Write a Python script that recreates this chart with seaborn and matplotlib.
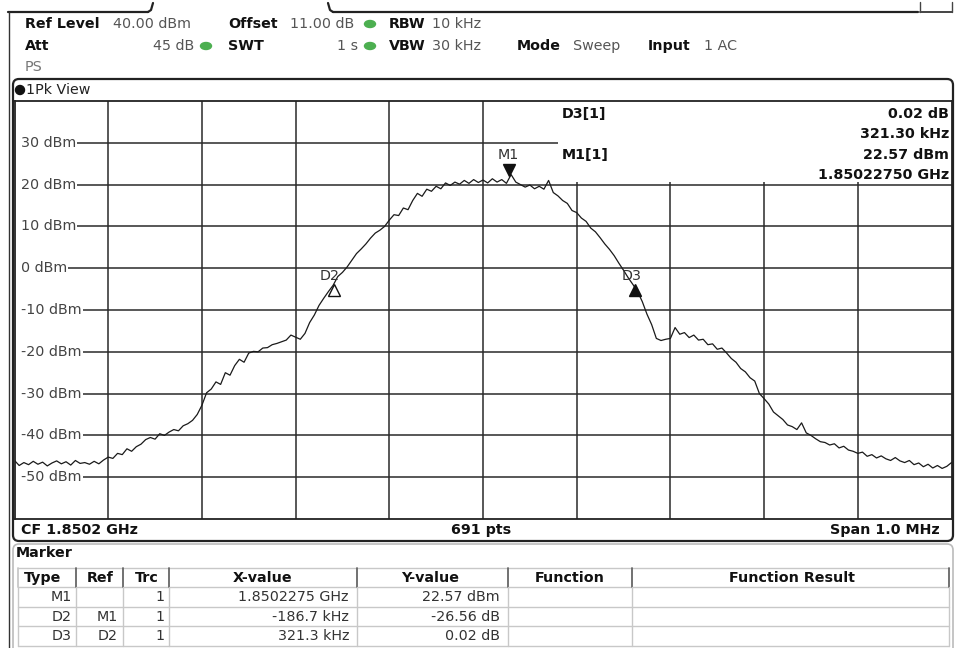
import numpy as np
import pandas as pd
import matplotlib
matplotlib.use("Agg")
import matplotlib.pyplot as plt
from matplotlib.patches import FancyBboxPatch, Ellipse, Rectangle
import seaborn as sns

# ---------------- data ----------------
center_ghz = 1.8502
span_khz = 1000.0
ref_level = 40.0
y_ticks = [30, 20, 10, 0, -10, -20, -30, -40, -50]
y_tick_labels = ["30 dBm", "20 dBm", "10 dBm", "0 dBm", "-10 dBm", "-20 dBm",
                 "-30 dBm", "-40 dBm", "-50 dBm"]

# trace level (dBm), read every 5 kHz from -500 kHz to +500 kHz
level_dbm = [
    -46.0, -47.2, -46.5, -47.0, -46.2, -46.9, -46.4, -47.3, -46.6, -46.1,
    -46.8, -46.3, -47.1, -46.0, -46.7, -46.5, -46.9, -46.2, -46.8, -45.9,
    -45.2, -45.5, -44.3, -44.6, -43.2, -43.8, -42.7, -42.1, -41.0, -40.5,
    -40.9, -39.6, -40.0, -39.2, -38.6, -38.9, -37.7, -37.2, -36.4, -35.0,
    -32.8, -29.8, -28.9, -27.2, -27.8, -25.0, -25.6, -23.3, -21.8, -22.5,
    -20.3, -19.9, -20.0, -19.1, -19.0, -18.3, -18.0, -17.6, -17.2, -16.0,
    -16.5, -17.0, -15.6, -13.0, -11.2, -8.9, -7.2, -5.6, -4.1, -2.0,
    -1.0, 0.3, 1.9, 3.5, 4.6, 5.8, 7.2, 8.4, 9.1, 10.0,
    11.5, 12.8, 12.6, 14.4, 14.0, 16.2, 17.9, 17.2, 18.9, 18.4,
    19.6, 19.0, 20.4, 19.8, 20.6, 20.1, 21.0, 20.3, 21.2, 20.5,
    21.1, 20.4, 21.4, 20.6, 21.2, 20.3, 22.4, 20.6, 20.0, 19.4,
    19.9, 19.0, 19.6, 18.9, 21.0, 18.1, 17.3, 16.2, 15.5, 13.8,
    13.3, 12.0, 11.2, 9.6, 8.7, 7.3, 5.8, 4.5, 3.0, 1.2,
    -0.5, -2.3, -3.9, -5.6, -8.0, -11.0, -13.5, -16.8, -17.3, -17.0,
    -16.8, -14.2, -15.8, -15.4, -16.6, -16.0, -17.2, -17.0, -18.3, -18.1,
    -19.4, -19.1, -20.3, -21.6, -22.5, -24.0, -24.8, -26.2, -27.0, -30.0,
    -31.2, -32.5, -34.4, -35.3, -36.2, -37.5, -37.9, -38.6, -37.0, -39.4,
    -40.0, -40.8, -41.5, -41.7, -42.3, -42.0, -43.0, -42.6, -43.5, -43.8,
    -44.3, -44.0, -45.0, -44.6, -45.4, -44.9, -45.6, -46.0, -45.3, -46.1,
    -46.5, -46.0, -47.0, -46.6, -47.5, -46.9, -47.8, -47.2, -47.9, -47.4,
    -46.5,
]

# markers
marker_names = ["M1", "D2", "D3"]
marker_x_khz = [27.5, -159.2, 162.1]        # offset from CF
marker_y_dbm = [22.57, -3.99, -3.97]
marker_filled = [True, False, True]
marker_up = [False, True, True]

table_type = ["M1", "D2", "D3"]
table_ref = ["", "M1", "D2"]
table_trc = ["1", "1", "1"]
table_x = ["1.8502275 GHz", "-186.7 kHz", "321.3 kHz"]
table_y = ["22.57 dBm", "-26.56 dB", "0.02 dB"]

# ---------------- figure ----------------
W, H = 957, 648
sns.set_style("white")
plt.rcParams["font.family"] = ["DejaVu Sans"]
fig = plt.figure(figsize=(W / 100, H / 100), dpi=100)
fig.patch.set_facecolor("white")

# background axes in pixel coordinates
bg = fig.add_axes([0, 0, 1, 1], zorder=0)
bg.set_xlim(0, W)
bg.set_ylim(H, 0)
bg.axis("off")

fs = 10.3
dark = "#111111"
gray = "#555555"
green = "#4caf50"

def t(ax, x, y, s, bold=False, color=None, ha="left", size=fs, **kw):
    ax.text(x, y, s, ha=ha, va="center", fontsize=size,
            fontweight="bold" if bold else "normal",
            color=color if color else (dark if bold else gray), **kw)

def dot(ax, x, y):
    ax.add_patch(Ellipse((x, y), 11, 7, color=green, zorder=3))

# top toolbar fragments
bg.plot([8, 148], [12, 12], color="#222", lw=1.6)
bg.plot([148, 151, 153], [12, 10, 3], color="#222", lw=1.6)
bg.plot([333, 918], [12, 12], color="#222", lw=1.6)
bg.plot([328, 330, 333], [3, 10, 12], color="#222", lw=1.6)
bg.plot([920, 952], [12, 12], color="#444", lw=1.4)
bg.plot([920, 920], [12, 2], color="#444", lw=1.0)
bg.plot([952, 952], [12, 2], color="#444", lw=1.0)
# left outer border
bg.plot([9, 9], [12, H], color="#333", lw=1.0)

# header rows
t(bg, 25, 24, "Ref Level", bold=True)
t(bg, 113, 24, "40.00 dBm")
t(bg, 228, 24, "Offset", bold=True)
t(bg, 290, 24, "11.00 dB")
dot(bg, 370, 24)
t(bg, 389, 24, "RBW", bold=True)
t(bg, 432, 24, "10 kHz")

t(bg, 25, 46, "Att", bold=True)
t(bg, 194, 46, "45 dB", ha="right")
dot(bg, 206, 46)
t(bg, 228, 46, "SWT", bold=True)
t(bg, 358, 46, "1 s", ha="right")
dot(bg, 370, 46)
t(bg, 389, 46, "VBW", bold=True)
t(bg, 432, 46, "30 kHz")
t(bg, 517, 46, "Mode", bold=True)
t(bg, 573, 46, "Sweep")
t(bg, 648, 46, "Input", bold=True)
t(bg, 704, 46, "1 AC")
t(bg, 25, 67, "PS", color="#777")

# 1Pk View panel
bg.add_patch(FancyBboxPatch((13, 79), 940, 462, boxstyle="round,pad=0,rounding_size=6",
                            fc="white", ec="#222", lw=1.6, zorder=1))
bg.add_patch(Ellipse((20, 90), 9, 9, color="#111", zorder=3))
t(bg, 26, 90, "1Pk View", color="#222", zorder=3)
t(bg, 21, 530, "CF 1.8502 GHz", bold=True, zorder=3)
t(bg, 481, 530, "691 pts", bold=True, ha="center", zorder=3)
t(bg, 940, 530, "Span 1.0 MHz", bold=True, ha="right", zorder=3)

# Marker panel
bg.add_patch(FancyBboxPatch((13, 544), 940, 130, boxstyle="round,pad=0,rounding_size=6",
                            fc="white", ec="#bbbbbb", lw=1.2, zorder=1))
t(bg, 16, 553, "Marker", bold=True, zorder=3)
cols = [18, 76, 123, 169, 357, 508, 632, 949]
row_edges = [568, 587, 607, 626, 646]
for yy in row_edges:
    bg.plot([18, 949], [yy, yy], color="#c8c8c8", lw=1.0, zorder=2)
for i, xx in enumerate(cols):
    bg.plot([xx, xx], [568, 587], color="#666" if 0 < i else "#c8c8c8", lw=1.3, zorder=2)
    bg.plot([xx, xx], [587, 646], color="#c8c8c8", lw=1.0, zorder=2)
headers = ["Type", "Ref", "Trc", "X-value", "Y-value", "Function", "Function Result"]
hx = [43, 100, 147, 263, 430, 570, 792]
for hh, xx in zip(headers, hx):
    t(bg, xx, 578, hh, bold=True, ha="center", zorder=3)
row_y = [597, 617, 636]
for i in range(3):
    t(bg, 72, row_y[i], table_type[i], color="#333", ha="right", zorder=3)
    t(bg, 118, row_y[i], table_ref[i], color="#333", ha="right", zorder=3)
    t(bg, 165, row_y[i], table_trc[i], color="#333", ha="right", zorder=3)
    t(bg, 349, row_y[i], table_x[i], color="#333", ha="right", zorder=3)
    t(bg, 500, row_y[i], table_y[i], color="#333", ha="right", zorder=3)

# ---------------- plot axes ----------------
L, R, T, B = 14.5, 951.5, 101, 519
ax = fig.add_axes([L / W, 1 - B / H, (R - L) / W, (B - T) / H], zorder=2)
ax.set_facecolor("white")

freq_khz = np.linspace(-span_khz / 2, span_khz / 2, len(level_dbm))
df = pd.DataFrame({"freq": freq_khz, "level": level_dbm})

ax.set_xlim(-span_khz / 2, span_khz / 2)
ax.set_ylim(ref_level - 100, ref_level)
ax.set_xticks(np.arange(-400, 401, 100))
ax.set_yticks(np.arange(-50, 31, 10))
ax.tick_params(length=0, labelbottom=False, labelleft=False)
ax.grid(True, color="#2a2a2a", lw=1.1, zorder=0)
ax.set_axisbelow(True)
for s in ax.spines.values():
    s.set_color("#222")
    s.set_linewidth(1.3)

# white strip at the left edge so the grid starts after the labels
ax.add_patch(Rectangle((0, 0), 0.008, 1, transform=ax.transAxes,
                       fc="white", ec="none", zorder=1.2))
# y labels drawn inside plot
for v, lab in zip(y_ticks, y_tick_labels):
    ax.text(0.0065, v, lab, transform=ax.get_yaxis_transform(), ha="left", va="center",
            fontsize=fs, color="#444",
            bbox=dict(boxstyle="square,pad=0.1", fc="white", ec="none"), zorder=2)

# marker-info white box
ax.add_patch(Rectangle((0.58, 20.6), 0.42, 19.4, transform=ax.get_yaxis_transform(),
                       fc="white", ec="none", zorder=1.5))

sns.lineplot(data=df, x="freq", y="level", ax=ax, color="#1a1a1a", lw=0.9,
             estimator=None, zorder=4)
ax.set_xlabel("")
ax.set_ylabel("")

for name, mx, my, filled, up in zip(marker_names, marker_x_khz, marker_y_dbm,
                                    marker_filled, marker_up):
    if up:
        ax.plot(mx, my - 1.3, marker="^", ms=8, mfc="#111" if filled else "white",
                mec="#111", mew=1.0, zorder=5)
        ax.text(mx - 4, my + 2.2, name, ha="center", va="center", fontsize=fs,
                color="#333", zorder=5)
    else:
        ax.plot(mx, my + 1.0, marker="v", ms=8, mfc="#111", mec="#111", zorder=5)
        ax.text(mx, my + 4.5, name, ha="center", va="center", fontsize=fs,
                color="#333", zorder=5)

# marker info text (over plot)
fg = fig.add_axes([0, 0, 1, 1], zorder=3)
fg.set_xlim(0, W)
fg.set_ylim(H, 0)
fg.axis("off")
fg.patch.set_alpha(0)
t(fg, 562, 114, "D3[1]", bold=True)
t(fg, 949, 114, "0.02 dB", bold=True, ha="right")
t(fg, 949, 134, "321.30 kHz", bold=True, ha="right")
t(fg, 562, 155, "M1[1]", bold=True)
t(fg, 949, 155, "22.57 dBm", bold=True, ha="right")
t(fg, 949, 175, "1.85022750 GHz", bold=True, ha="right")

fig.savefig("out.png", dpi=100, facecolor="white")
